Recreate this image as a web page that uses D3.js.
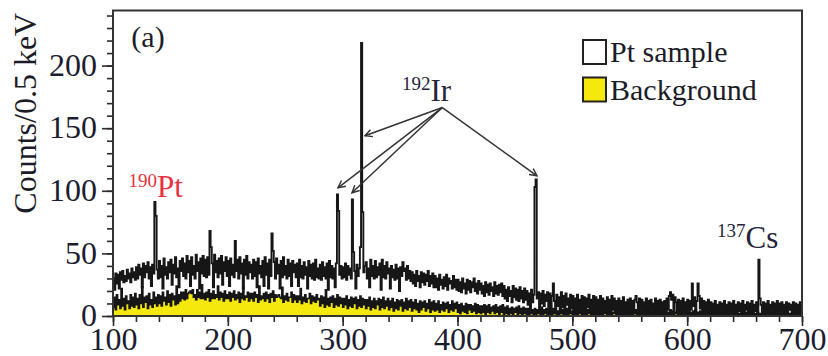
<!DOCTYPE html>
<html>
<head>
<meta charset="utf-8">
<script src="https://cdn.jsdelivr.net/npm/d3@7"></script>
<style>
  html, body { margin: 0; padding: 0; background: #fff; }
  svg { display: block; }
  text { font-family: "Liberation Serif", "Times New Roman", serif; fill: #1c1c28; }
</style>
</head>
<body>
<svg id="chart" width="828" height="356"></svg>
<script>
// Gamma spectrum, 1 keV bins from 100 keV to 700 keV (counts per 0.5 keV)
const energyStart = 100;
const binWidth = 1;

const ptSample = [
  30, 21, 34, 26, 33, 22, 35, 29, 36, 27, 32, 28, 37, 30, 34, 27, 38, 31, 35, 29,
  39, 30, 41, 33, 38, 23, 42, 31, 40, 35, 43, 30, 39, 24, 41, 34, 91, 80, 37, 30,
  44, 31, 40, 22, 46, 33, 39, 30, 43, 35, 45, 25, 41, 34, 47, 31, 38, 23, 44, 36,
  46, 32, 42, 30, 48, 35, 44, 24, 47, 33, 40, 30, 49, 36, 43, 22, 46, 34, 48, 32,
  45, 31, 47, 33, 68, 55, 42, 23, 49, 35, 44, 31, 46, 34, 48, 25, 43, 36, 47, 32,
  44, 24, 46, 33, 41, 31, 60, 36, 45, 30, 47, 34, 42, 22, 45, 33, 48, 30, 43, 35,
  41, 30, 45, 32, 43, 23, 46, 34, 40, 31, 44, 24, 47, 33, 42, 22, 45, 32, 66, 52,
  43, 30, 46, 34, 41, 22, 44, 31, 47, 33, 40, 30, 45, 32, 42, 24, 44, 35, 41, 31,
  42, 24, 45, 31, 40, 30, 43, 33, 39, 22, 44, 32, 41, 30, 42, 29, 45, 31, 38, 30,
  41, 29, 43, 32, 39, 30, 42, 21, 44, 31, 40, 30, 38, 23, 42, 97, 84, 33, 40, 30,
  39, 31, 42, 29, 40, 33, 38, 30, 93, 51, 36, 22, 41, 32, 38, 55, 218, 83, 35, 40,
  43, 30, 38, 23, 45, 32, 40, 30, 44, 31, 39, 33, 42, 21, 45, 31, 40, 30, 43, 34,
  38, 22, 40, 31, 37, 29, 41, 30, 38, 20, 39, 32, 43, 36, 38, 29, 40, 30, 36, 28,
  35, 26, 33, 24, 36, 28, 32, 23, 35, 27, 34, 25, 33, 28, 36, 24, 32, 26, 34, 23,
  32, 23, 30, 21, 33, 25, 29, 22, 31, 24, 33, 21, 30, 26, 28, 22, 32, 23, 29, 21,
  29, 20, 27, 19, 30, 22, 26, 18, 29, 21, 28, 19, 27, 23, 30, 20, 26, 18, 28, 21,
  26, 18, 24, 16, 27, 19, 25, 17, 26, 20, 23, 16, 27, 18, 24, 17, 25, 19, 26, 16,
  24, 14, 21, 12, 23, 16, 20, 11, 24, 15, 22, 13, 21, 12, 23, 14, 20, 11, 22, 13,
  20, 9, 18, 6, 21, 11, 17, 103, 109, 14, 19, 7, 18, 10, 20, 8, 17, 12, 19, 6,
  18, 5, 16, 26, 12, 4, 17, 8, 15, 3, 19, 7, 16, 4, 18, 9, 14, 5, 17, 6,
  16, 4, 14, 2, 17, 6, 13, 3, 16, 5, 15, 2, 14, 7, 17, 3, 13, 5, 16, 4,
  15, 3, 13, 5, 16, 2, 14, 6, 12, 3, 15, 4, 13, 2, 16, 5, 14, 3, 12, 6,
  14, 2, 12, 4, 15, 3, 11, 5, 13, 1, 14, 4, 12, 2, 13, 16, 11, 3, 14, 5,
  13, 2, 11, 4, 14, 1, 12, 3, 13, 5, 10, 2, 14, 3, 12, 1, 13, 4, 11, 2,
  12, 3, 14, 5, 16, 19, 13, 17, 4, 15, 11, 2, 13, 5, 12, 3, 14, 2, 11, 4,
  13, 3, 12, 5, 26, 8, 15, 4, 12, 26, 16, 6, 14, 3, 12, 5, 11, 2, 13, 4,
  11, 2, 10, 4, 12, 1, 9, 3, 11, 5, 10, 2, 12, 3, 9, 1, 11, 4, 10, 2,
  12, 3, 9, 1, 11, 4, 10, 2, 12, 3, 9, 5, 11, 1, 10, 3, 12, 2, 9, 4,
  11, 3, 45, 14, 9, 2, 11, 4, 10, 1, 12, 3, 9, 5, 11, 2, 10, 4, 12, 1,
  10, 3, 11, 2, 9, 4, 11, 1, 10, 5, 9, 2, 11, 3, 10, 1, 9, 4, 11, 2
];

const background = [
  7, 15, 5, 17, 9, 13, 6, 22, 8, 14, 5, 16, 10, 12, 6, 17, 8, 15, 7, 18,
  9, 14, 6, 17, 10, 23, 7, 15, 11, 16, 6, 18, 9, 13, 7, 19, 10, 15, 8, 17,
  10, 16, 8, 19, 12, 15, 9, 20, 11, 17, 8, 18, 13, 16, 9, 24, 10, 17, 12, 19,
  14, 19, 13, 21, 14, 18, 19, 20, 18, 21, 15, 17, 13, 21, 15, 19, 14, 25, 14, 18,
  13, 19, 15, 21, 12, 18, 14, 20, 14, 17, 15, 24, 13, 19, 15, 18, 12, 20, 14, 17,
  14, 19, 12, 18, 15, 20, 13, 17, 14, 19, 11, 18, 14, 23, 13, 16, 15, 19, 12, 18,
  14, 18, 12, 19, 15, 17, 11, 24, 13, 16, 14, 18, 12, 19, 14, 17, 11, 18, 15, 20,
  12, 17, 15, 16, 17, 15, 14, 23, 11, 16, 13, 18, 12, 15, 15, 19, 11, 17, 13, 16,
  11, 16, 13, 22, 10, 15, 12, 17, 11, 14, 14, 18, 10, 16, 12, 15, 11, 17, 13, 14,
  8, 16, 10, 15, 7, 21, 9, 14, 8, 15, 11, 16, 7, 14, 9, 17, 8, 15, 10, 14,
  7, 14, 9, 16, 6, 13, 8, 15, 7, 14, 10, 15, 6, 13, 8, 16, 7, 14, 9, 13,
  6, 13, 8, 15, 5, 12, 7, 14, 6, 12, 9, 14, 5, 13, 7, 15, 6, 12, 8, 14,
  5, 12, 7, 14, 4, 11, 6, 13, 5, 12, 8, 13, 4, 11, 6, 14, 5, 12, 7, 13,
  4, 11, 6, 13, 5, 10, 3, 12, 5, 11, 7, 12, 4, 10, 6, 13, 3, 11, 5, 12,
  4, 10, 5, 12, 3, 9, 5, 11, 4, 10, 6, 11, 3, 9, 5, 12, 4, 10, 6, 11,
  3, 9, 2, 10, 4, 8, 3, 10, 2, 9, 5, 9, 3, 8, 4, 10, 2, 9, 3, 8,
  2, 8, 3, 9, 1, 8, 3, 9, 2, 7, 4, 8, 2, 9, 3, 7, 1, 8, 3, 9,
  1, 7, 2, 8, 1, 6, 2, 7, 0, 6, 3, 7, 1, 8, 2, 6, 0, 7, 2, 6,
  1, 6, 0, 7, 2, 5, 1, 6, 0, 5, 2, 6, 1, 7, 0, 5, 2, 6, 1, 5,
  1, 5, 0, 6, 2, 5, 0, 4, 1, 6, 2, 5, 0, 4, 1, 6, 0, 5, 2, 4,
  0, 5, 1, 4, 0, 6, 2, 4, 0, 5, 1, 4, 0, 5, 2, 3, 0, 5, 1, 4,
  1, 4, 0, 5, 1, 3, 0, 5, 2, 4, 0, 4, 1, 5, 0, 3, 2, 4, 0, 5,
  0, 4, 1, 5, 0, 3, 1, 4, 0, 5, 1, 3, 0, 4, 2, 5, 0, 3, 1, 4,
  1, 3, 0, 4, 1, 5, 0, 3, 1, 4, 0, 5, 1, 3, 0, 4, 1, 5, 0, 3,
  0, 4, 1, 3, 0, 5, 1, 4, 0, 3, 2, 4, 0, 5, 1, 3, 0, 4, 1, 3,
  1, 4, 0, 3, 1, 4, 0, 5, 1, 3, 0, 4, 1, 3, 0, 5, 1, 4, 0, 3,
  0, 3, 1, 4, 0, 3, 1, 2, 0, 4, 1, 3, 0, 4, 1, 2, 0, 3, 1, 4,
  1, 3, 0, 4, 1, 2, 0, 3, 1, 4, 0, 3, 1, 2, 0, 4, 1, 3, 0, 2,
  0, 3, 1, 2, 0, 4, 1, 3, 0, 2, 1, 3, 0, 4, 1, 2, 0, 3, 1, 2,
  1, 3, 0, 2, 1, 4, 0, 3, 1, 2, 0, 3, 1, 2, 0, 4, 1, 3, 0, 2
];

const xTicks = [100, 200, 300, 400, 500, 600, 700];
const yTicks = [0, 50, 100, 150, 200];

// Peak labels: mass number, element, anchor energy/counts
const ptLabel = { mass: "190", name: "Pt", e: 113.5, c: 95 };
const irLabel = { mass: "192", name: "Ir", e: 351.7, c: 172 };
const csLabel = { mass: "137", name: "Cs", e: 626, c: 55 };

// Arrows from the 192Ir label to its lines: [energy, counts] of the tips
const irOrigin = [386.8, 166.5];
const irTargets = [[319.4, 144], [295.9, 102.4], [308.1, 98.4], [469.2, 112]];

const legendItems = [
  { label: "Pt sample", fill: "#ffffff" },
  { label: "Background", fill: "#f4e80c" }
];

const W = 828, H = 356;
const margin = { left: 113, right: 26, top: 10.5, bottom: 40 };
const svg = d3.select("#chart");

const x = d3.scaleLinear().domain([100, 700]).range([margin.left, W - margin.right]);
const y = d3.scaleLinear().domain([0, 244]).range([H - margin.bottom, margin.top]);

function steps(values) {
  const pts = [];
  values.forEach((v, i) => {
    const e0 = energyStart + i * binWidth;
    pts.push([e0, v], [e0 + binWidth, v]);
  });
  return pts;
}

const line = d3.line().x(d => x(d[0])).y(d => y(d[1]));
const area = d3.area().x(d => x(d[0])).y0(y(0)).y1(d => y(d[1]));

const plot = svg.append("g");
plot.append("path")
  .attr("d", area(steps(background)))
  .attr("fill", "#f4e80c");
plot.append("path")
  .attr("d", line(steps(background)))
  .attr("fill", "none").attr("stroke", "#161616").attr("stroke-width", 1.6);
plot.append("path")
  .attr("d", line(steps(ptSample)))
  .attr("fill", "none").attr("stroke", "#161616").attr("stroke-width", 1.9);

// Axes: outward major and minor ticks
const axisColor = "#2a2a2a";
function styleAxis(g) {
  g.select(".domain").remove();
  g.selectAll(".tick line").attr("stroke", axisColor).attr("stroke-width", 1.6);
}

svg.append("g")
  .attr("transform", `translate(0,${y(0)})`)
  .call(d3.axisBottom(x).tickValues(d3.range(100, 701, 20)).tickSize(6).tickFormat(""))
  .call(styleAxis);
svg.append("g")
  .attr("transform", `translate(0,${y(0)})`)
  .call(d3.axisBottom(x).tickValues(xTicks).tickSize(10).tickPadding(0))
  .call(styleAxis)
  .call(g => g.selectAll("text")
    .attr("font-size", 32).attr("y", 34).attr("dy", null)
    .style("fill", "#1c1c30"));

svg.append("g")
  .attr("transform", `translate(${x(100)},0)`)
  .call(d3.axisLeft(y).tickValues(d3.range(0, 241, 10)).tickSize(6).tickFormat(""))
  .call(styleAxis);
svg.append("g")
  .attr("transform", `translate(${x(100)},0)`)
  .call(d3.axisLeft(y).tickValues(yTicks).tickSize(11).tickPadding(5))
  .call(styleAxis)
  .call(g => g.selectAll("text").attr("font-size", 32).attr("dy", "0.3em").style("fill", "#1c1c30"));

// Frame
svg.append("rect")
  .attr("x", x(100)).attr("y", y(244))
  .attr("width", x(700) - x(100)).attr("height", y(0) - y(244))
  .attr("fill", "none").attr("stroke", "#333").attr("stroke-width", 2);

// Axis title
svg.append("text")
  .attr("transform", `translate(36,${(y(0) + y(244)) / 2 - 50}) rotate(-90)`)
  .attr("text-anchor", "middle")
  .attr("font-size", 32)
  .text("Counts/0.5 keV");

// Panel tag
svg.append("text")
  .attr("x", x(116)).attr("y", y(215))
  .attr("font-size", 30)
  .text("(a)");

// Isotope labels
function isotope(lbl, color) {
  const t = svg.append("text")
    .attr("x", x(lbl.e)).attr("y", y(lbl.c))
    .style("fill", color);
  t.append("tspan").attr("font-size", 19).attr("dy", "-0.55em").text(lbl.mass);
  t.append("tspan").attr("font-size", 31).attr("dy", "0.35em").text(lbl.name);
}
isotope(ptLabel, "#e8323e");
isotope(irLabel, "#24243a");
isotope(csLabel, "#24243a");

// Arrows
const defs = svg.append("defs");
defs.append("marker")
  .attr("id", "head").attr("viewBox", "0 0 10 10")
  .attr("refX", 9).attr("refY", 5)
  .attr("markerWidth", 9).attr("markerHeight", 9)
  .attr("markerUnits", "userSpaceOnUse")
  .attr("orient", "auto")
  .append("path").attr("d", "M1,1 L9,5 L1,9")
  .attr("fill", "none").attr("stroke", "#333").attr("stroke-width", 1.6);

svg.append("g").selectAll("line")
  .data(irTargets).join("line")
  .attr("x1", x(irOrigin[0])).attr("y1", y(irOrigin[1]))
  .attr("x2", d => x(d[0])).attr("y2", d => y(d[1]))
  .attr("stroke", "#333").attr("stroke-width", 1.5)
  .attr("marker-end", "url(#head)");

// Legend
const lg = svg.append("g").attr("transform", "translate(583,40)");
legendItems.forEach((d, i) => {
  lg.append("rect")
    .attr("x", 0).attr("y", i * 37.5)
    .attr("width", 23).attr("height", 24)
    .attr("fill", d.fill).attr("stroke", "#222").attr("stroke-width", 2);
  lg.append("text")
    .attr("x", 27).attr("y", i * 37.5 + 22)
    .attr("font-size", 30)
    .text(d.label);
});
</script>
</body>
</html>
